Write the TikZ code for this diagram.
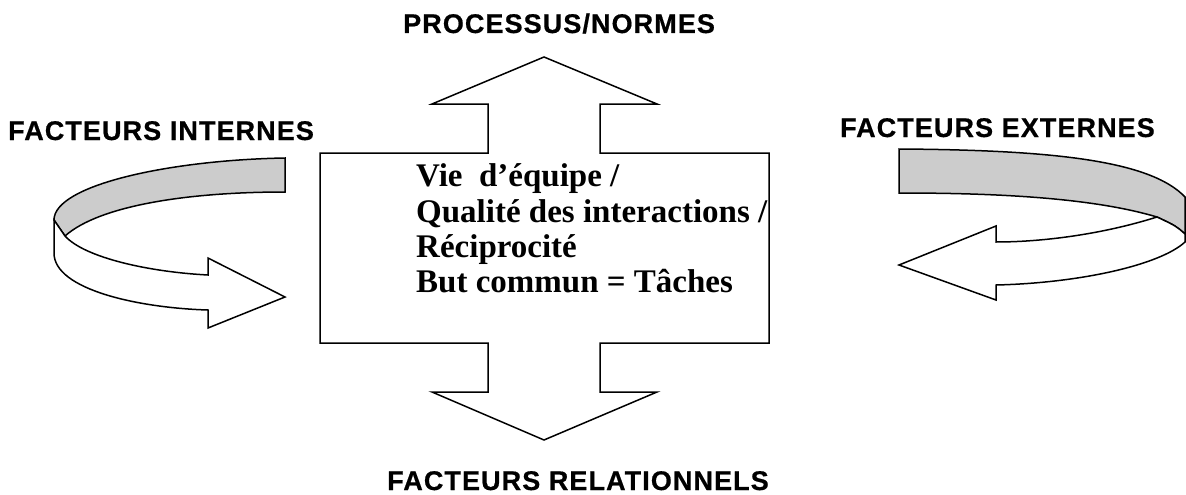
\documentclass[tikz,border=0pt]{standalone}
\usepackage{fontspec}
\setmainfont{Liberation Serif}
\newfontfamily\hsans[LetterSpace=4,BoldFeatures={FakeBold=0.6}]{Liberation Sans}
\definecolor{bandgray}{RGB}{204,204,204}
\tikzset{
  shapeline/.style={draw=black,line width=1.5pt,line join=miter},
  headtext/.style={font=\hsans\bfseries\fontsize{27}{30}\selectfont,inner sep=0pt},
  boxtext/.style={font=\bfseries\fontsize{33}{35}\selectfont,inner sep=0pt,anchor=base west}
}
\begin{document}
\begin{tikzpicture}[x=1pt,y=-1pt]
\useasboundingbox (0,0) rectangle (1186,495);
% central double arrow box
\draw[shapeline,fill=white] (544,57) -- (657,104) -- (600,104) -- (600,153) -- (769,153) -- (769,343)
  -- (600,343) -- (600,392) -- (657,392) -- (544,440) -- (432,392) -- (488,392) -- (488,343)
  -- (320,343) -- (320,153) -- (488,153) -- (488,104) -- (432,104) -- cycle;
% left curved arrow
\draw[shapeline,fill=bandgray] (285,158) .. controls (170,160) and (54,185) .. (54,220)
  -- (65,236) .. controls (100,205) and (190,192) .. (285,192) -- cycle;
\draw[shapeline,fill=white] (54,220) -- (54,253) .. controls (54,290) and (140,308) .. (208,310)
  -- (208,328) -- (285,297) -- (208,258) -- (208,275)
  .. controls (150,272) and (85,258) .. (65,236) -- cycle;
% right curved arrow
\draw[shapeline,fill=bandgray] (899,149) .. controls (1050,150) and (1150,160) .. (1185,197)
  -- (1185,234) .. controls (1176,226) .. (1157,217)
  .. controls (1090,197) and (990,193) .. (899,193) -- cycle;
\draw[shapeline,fill=white] (1157,217) .. controls (1100,235) and (1040,242) .. (996,242)
  -- (996,226) -- (899,265) -- (996,300) -- (996,285)
  .. controls (1080,283) and (1160,265) .. (1185,242) -- (1185,234)
  .. controls (1176,226) .. (1157,217) -- cycle;
% labels
\node[headtext,anchor=base west] (proc) at (403,33) {PROCESSUS/NORMES};
\node[headtext,anchor=base west] (fint) at (8,140) {FACTEURS INTERNES};
\node[headtext,anchor=base east] (fext) at (1155,137) {FACTEURS EXTERNES};
\node[headtext,anchor=base] (frel) at (578,490) {FACTEURS RELATIONNELS};
\node[boxtext] (l1) at (416,186) {Vie\ \ d’équipe /};
\node[boxtext] (l2) at (416,222) {Qualité des interactions /};
\node[boxtext] (l3) at (416,257) {Réciprocité};
\node[boxtext] (l4) at (416,292) {But commun = Tâches};
\end{tikzpicture}
\end{document}
